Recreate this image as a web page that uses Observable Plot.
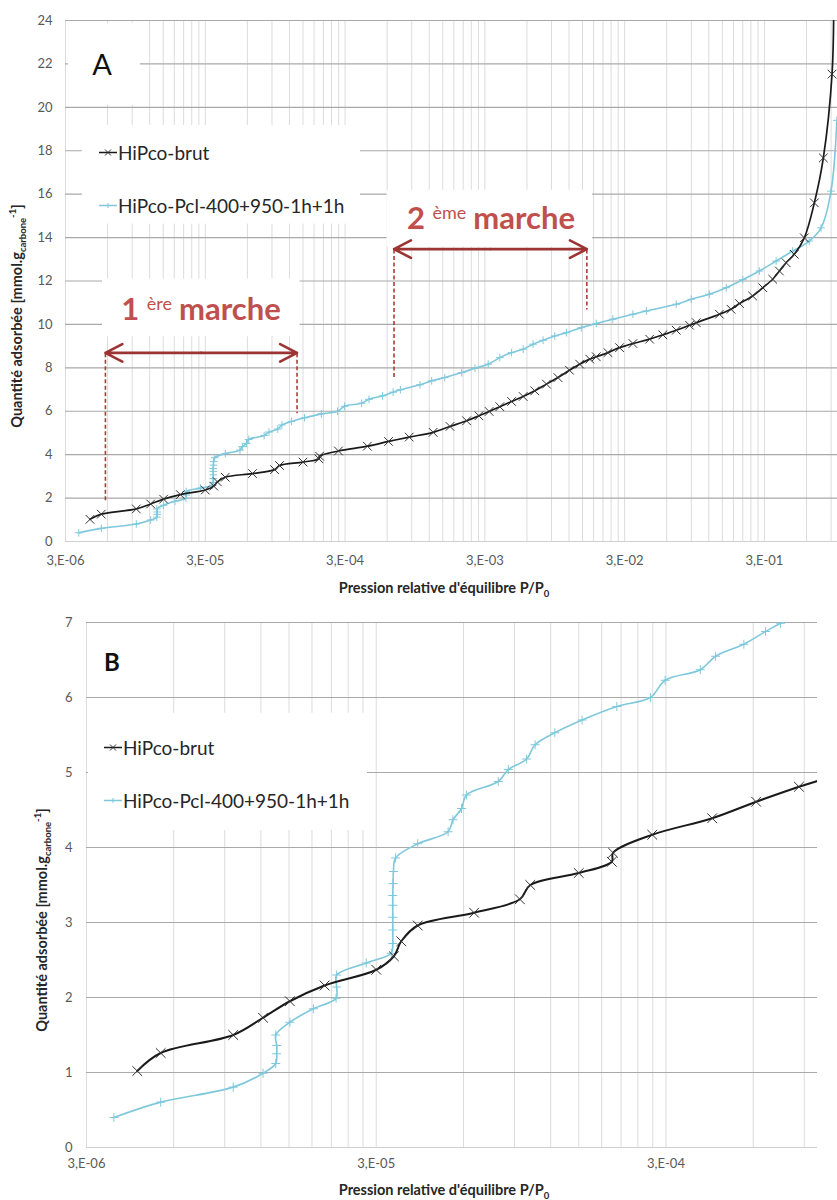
<!DOCTYPE html>
<html><head><meta charset="utf-8">
<script src="https://cdn.jsdelivr.net/npm/d3@7"></script>
<script src="https://cdn.jsdelivr.net/npm/@observablehq/plot@0.6"></script>
<style>
body{margin:0;background:#fff;font-family:Lato,"Open Sans",sans-serif;}
#wrap{position:relative;width:837px;height:1200px;overflow:hidden;background:#fff;}
#wrap > svg{position:absolute;left:0;}
.ov{position:absolute;white-space:nowrap;line-height:1;transform:translate(-50%,-50%);}
.leg{position:absolute;background:#fff;}
.row{position:absolute;left:0;display:flex;align-items:center;transform:translateY(-50%);font-size:19px;color:#262626;white-space:nowrap;}
#wrap .row svg{position:static;display:block;margin-right:1px;}
.ttl{font-weight:700;font-size:14.5px;color:#262626;}
.ttl sub,.ttl sup{font-size:9.5px;}
.marche{font-weight:700;font-size:31px;color:#c0504d;}
.marche sup{font-size:18px;vertical-align:0.55em;font-weight:400;margin-right:7px;}
</style></head><body><div id="wrap"></div>
<script>
// ---------- data ----------
const seriesNames = ["HiPco-brut", "HiPco-Pcl-400+950-1h+1h"];
const brutP = [4.49e-6, 5.41e-6, 9.63e-6, 1.22e-5, 1.51e-5, 1.99e-5, 3.0e-5, 3.45e-5, 3.66e-5, 4.17e-5, 6.53e-5, 9.39e-5, 1.02e-4, 1.50e-4, 1.95e-4, 1.97e-4, 2.69e-4, 4.33e-4, 6.14e-4, 8.63e-4, 1.28e-3, 1.69e-3, 2.22e-3, 2.72e-3, 3.22e-3, 3.84e-3, 4.66e-3, 5.64e-3, 6.83e-3, 8.28e-3, 1.00e-2, 1.21e-2, 1.43e-2, 1.69e-2, 1.88e-2, 2.28e-2, 2.76e-2, 3.44e-2, 4.53e-2, 5.63e-2, 7.02e-2, 8.74e-2, 0.0976, 0.143, 0.173, 0.199, 0.247, 0.292, 0.344, 0.384, 0.429, 0.491, 0.579, 0.683, 0.792, 0.914, 0.94];
const brutQ = [1.02, 1.26, 1.50, 1.73, 1.95, 2.16, 2.37, 2.55, 2.75, 2.96, 3.13, 3.31, 3.50, 3.66, 3.81, 3.93, 4.17, 4.39, 4.61, 4.81, 5.03, 5.30, 5.56, 5.79, 5.99, 6.21, 6.45, 6.68, 6.94, 7.25, 7.55, 7.89, 8.17, 8.40, 8.51, 8.70, 8.93, 9.12, 9.32, 9.52, 9.73, 9.96, 10.08, 10.47, 10.70, 10.96, 11.31, 11.69, 12.08, 12.46, 12.84, 13.23, 13.99, 15.60, 17.67, 21.53, 25.0];
const pclP = [3.73e-6, 5.41e-6, 9.63e-6, 1.22e-5, 1.35e-5, 1.36e-5, 1.36e-5, 1.35e-5, 1.51e-5, 1.82e-5, 2.18e-5, 2.19e-5, 2.19e-5, 2.77e-5, 3.38e-5, 3.42e-5, 3.42e-5, 3.42e-5, 3.42e-5, 3.42e-5, 3.43e-5, 3.44e-5, 3.50e-5, 4.17e-5, 5.31e-5, 5.52e-5, 5.91e-5, 6.14e-5, 7.91e-5, 8.57e-5, 9.91e-5, 1.06e-4, 1.24e-4, 1.54e-4, 2.03e-4, 2.65e-4, 2.98e-4, 3.94e-4, 4.45e-4, 5.57e-4, 6.62e-4, 7.46e-4, 1.03e-3, 1.25e-3, 1.55e-3, 2.05e-3, 2.55e-3, 3.17e-3, 3.84e-3, 4.66e-3, 5.64e-3, 6.64e-3, 7.83e-3, 9.49e-3, 1.15e-2, 1.47e-2, 1.88e-2, 2.47e-2, 3.44e-2, 4.29e-2, 7.02e-2, 8.99e-2, 0.121, 0.160, 0.210, 0.276, 0.364, 0.478, 0.628, 0.763, 0.899, 0.99];
const pclQ = [0.40, 0.605, 0.805, 0.99, 1.12, 1.25, 1.36, 1.50, 1.67, 1.85, 1.99, 2.14, 2.30, 2.46, 2.59, 2.72, 2.90, 3.07, 3.23, 3.36, 3.52, 3.68, 3.86, 4.05, 4.21, 4.37, 4.52, 4.70, 4.88, 5.04, 5.18, 5.37, 5.53, 5.70, 5.88, 6.00, 6.23, 6.37, 6.55, 6.71, 6.88, 6.99, 7.22, 7.40, 7.55, 7.78, 7.98, 8.17, 8.47, 8.70, 8.86, 9.09, 9.27, 9.47, 9.62, 9.85, 10.04, 10.24, 10.47, 10.62, 10.93, 11.16, 11.39, 11.69, 12.06, 12.46, 12.92, 13.38, 13.84, 14.45, 16.14, 19.4];

const xTicksA = [3e-6, 3e-5, 3e-4, 3e-3, 3e-2, 3e-1];
const xTickLabelsA = ["3,E-06", "3,E-05", "3,E-04", "3,E-03", "3,E-02", "3,E-01"];
const xTicksB = [3e-6, 3e-5, 3e-4];
const xTickLabelsB = ["3,E-06", "3,E-05", "3,E-04"];
const yTicksA = [0, 2, 4, 6, 8, 10, 12, 14, 16, 18, 20, 22, 24];
const yTicksB = [0, 1, 2, 3, 4, 5, 6, 7];
const minorMult = [1, 2, 3, 4, 5, 6, 7, 8, 9];

// annotation "marches" (panel A), in data coordinates
const marches = [
  {xL: 5.79e-6, xR: 1.36e-4, y: 8.69, yL: 1.89, yR: 5.93},
  {xL: 6.72e-4, xR: 1.61e-2, y: 13.47, yL: 7.49, yR: 10.71}
];
// white text boxes (Excel text boxes / legend) in data coordinates
const boxesA = [
  {x1: 3.15e-6, x2: 1.03e-5, y1: 20.1, y2: 23.85},
  {x1: 3.96e-6, x2: 3.84e-4, y1: 14.62, y2: 19.13},
  {x1: 5.52e-6, x2: 1.43e-4, y1: 9.43, y2: 12.09},
  {x1: 5.99e-4, x2: 1.77e-2, y1: 13.56, y2: 16.18}
];
const boxesB = [
  {x1: 3.05e-6, x2: 2.8e-5, y1: 4.23, y2: 5.79}
];

const BLUE = "#7fc8dc", BLACK = "#1a1a1a", DARKRED = "#9b3432";
const brut = brutP.map((p, i) => ({P: p, Q: brutQ[i]}));
const pcl = pclP.map((p, i) => ({P: p, Q: pclQ[i]}));

function panel(c) {
  const grid = c.xTicks.flatMap(b => minorMult.map(m => b * m)).filter(v => v <= c.xDomain[1] * 1.0001);
  const marks = [
    Plot.ruleX(grid, {stroke: "#dcdcdc", strokeWidth: 1}),
    Plot.ruleY(c.yTicks.filter(v => v > 0), {stroke: "#a9a9a9", strokeWidth: 1.2}),
    Plot.ruleY([0], {stroke: "#cfcfcf", strokeWidth: 1.2}),
    Plot.rect(c.boxes, {x1: "x1", x2: "x2", y1: "y1", y2: "y2", fill: "white"})
  ];
  if (c.marches) {
    const arrows = c.marches.flatMap(m => {
      const mid = Math.sqrt(m.xL * m.xR);
      return [{a: mid, b: m.xL, y: m.y}, {a: mid, b: m.xR, y: m.y}];
    });
    const dashes = c.marches.flatMap(m => [{x: m.xL, y1: m.y, y2: m.yL}, {x: m.xR, y1: m.y, y2: m.yR}]);
    marks.push(
      Plot.ruleX(dashes, {x: "x", y1: "y1", y2: "y2", stroke: "#b03a3a", strokeWidth: 1.6, strokeDasharray: "4,2.5", dy: 1}),
      Plot.arrow(arrows, {x1: "a", x2: "b", y1: "y", y2: "y", stroke: DARKRED, strokeWidth: 2.6, headLength: 11, headAngle: 55})
    );
  }
  marks.push(
    Plot.line(pcl, {x: "P", y: "Q", stroke: BLUE, strokeWidth: 1.6, curve: "catmull-rom", clip: true}),
    Plot.dot(pcl, {x: "P", y: "Q", symbol: "plus", r: c.blueR, stroke: BLUE, strokeWidth: 1, clip: true}),
    Plot.line(brut, {x: "P", y: "Q", stroke: BLACK, strokeWidth: c.blackW, curve: "catmull-rom", clip: true}),
    Plot.dot(brut, {x: "P", y: "Q", symbol: "times", r: c.blackR, stroke: "#333", strokeWidth: 1, clip: true}),
    Plot.text(c.xTicks, {x: d => d, text: (d, i) => c.xLabels[i], frameAnchor: "bottom", dy: c.xdy, fontSize: 13, fill: "#595959"}),
    Plot.text(c.yTicks, {y: d => d, text: d => String(d), frameAnchor: "left", dx: -c.ydx, textAnchor: "end", fontSize: 13, fill: "#595959"})
  );
  const svg = Plot.plot({
    width: 837, height: c.height,
    marginLeft: c.ml, marginRight: c.mr, marginTop: c.mt, marginBottom: c.mb,
    x: {type: "log", domain: c.xDomain, axis: null},
    y: {domain: c.yDomain, axis: null},
    style: {fontFamily: "Lato, 'Open Sans', sans-serif", background: "transparent", overflow: "visible"},
    marks
  });
  svg.style.top = c.top + "px";
  return svg;
}

const wrap = document.getElementById("wrap");
wrap.appendChild(panel({
  top: 0, height: 610, ml: 65, mr: 0, mt: 20, mb: 69,
  xDomain: [3e-6, 1], yDomain: [0, 24], xTicks: xTicksA, xLabels: xTickLabelsA, yTicks: yTicksA,
  xdy: 23, ydx: 13, boxes: boxesA, marches, blueR: 2.6, blackR: 4, blackW: 1.7
}));
wrap.appendChild(panel({
  top: 610, height: 590, ml: 86, mr: 20, mt: 12, mb: 53,
  xDomain: [3e-6, 1e-3], yDomain: [0, 7], xTicks: xTicksB, xLabels: xTickLabelsB, yTicks: yTicksB,
  xdy: 20, ydx: 14, boxes: boxesB, marches: null, blueR: 3, blackR: 4.5, blackW: 2
}));

// ---------- overlays: labels, legends, titles ----------
function add(html, cls, style) {
  const d = document.createElement("div");
  d.className = cls; d.innerHTML = html; Object.assign(d.style, style);
  wrap.appendChild(d); return d;
}
function swatch(i) {
  const col = i === 0 ? BLACK : BLUE;
  const mk = i === 0
    ? `<path d="M6,3L12,9M12,3L6,9" stroke="#333" stroke-width="1"/>`
    : `<path d="M9,3.5V8.5M6.5,6H11.5" stroke="${BLUE}" stroke-width="1"/>`;
  return `<svg width="18" height="12"><line x1="0" y1="6" x2="18" y2="6" stroke="${col}" stroke-width="1.5"/>${mk}</svg>`;
}
function legend(left, top, w, h, rows, x0) {
  const L = add("", "leg", {left: left + "px", top: top + "px", width: w + "px", height: h + "px"});
  rows.forEach((ry, i) => {
    const r = document.createElement("div");
    r.className = "row";
    r.style.left = (x0 - left) + "px"; r.style.top = (ry - top) + "px";
    r.innerHTML = swatch(i) + `<span>${seriesNames[i]}</span>`;
    L.appendChild(r);
  });
}
legend(82, 125, 278, 98, [152, 205], 99);
legend(88, 713, 279, 117, [747, 800], 104);

add("A", "ov", {left: "102px", top: "63px", fontSize: "29px", color: "#111"});
add("B", "ov", {left: "112px", top: "662px", fontSize: "24px", fontWeight: "700", color: "#111"});

add(`1 <sup>ère</sup>marche`, "ov marche", {left: "201px", top: "308px"});
add(`2 <sup>ème</sup>marche`, "ov marche", {left: "491px", top: "217px"});

const yTitle = `Quantité adsorbée [mmol.g<sub>carbone</sub><sup>-1</sup>]`;
const xTitle = `Pression relative d'équilibre P/P<sub>0</sub>`;
add(yTitle, "ov ttl", {left: "18px", top: "316px", transform: "translate(-50%,-50%) rotate(-90deg)"});
add(yTitle, "ov ttl", {left: "43px", top: "920px", transform: "translate(-50%,-50%) rotate(-90deg)"});
add(xTitle, "ov ttl", {left: "444px", top: "590px"});
add(xTitle, "ov ttl", {left: "444px", top: "1192px"});
</script></body></html>
